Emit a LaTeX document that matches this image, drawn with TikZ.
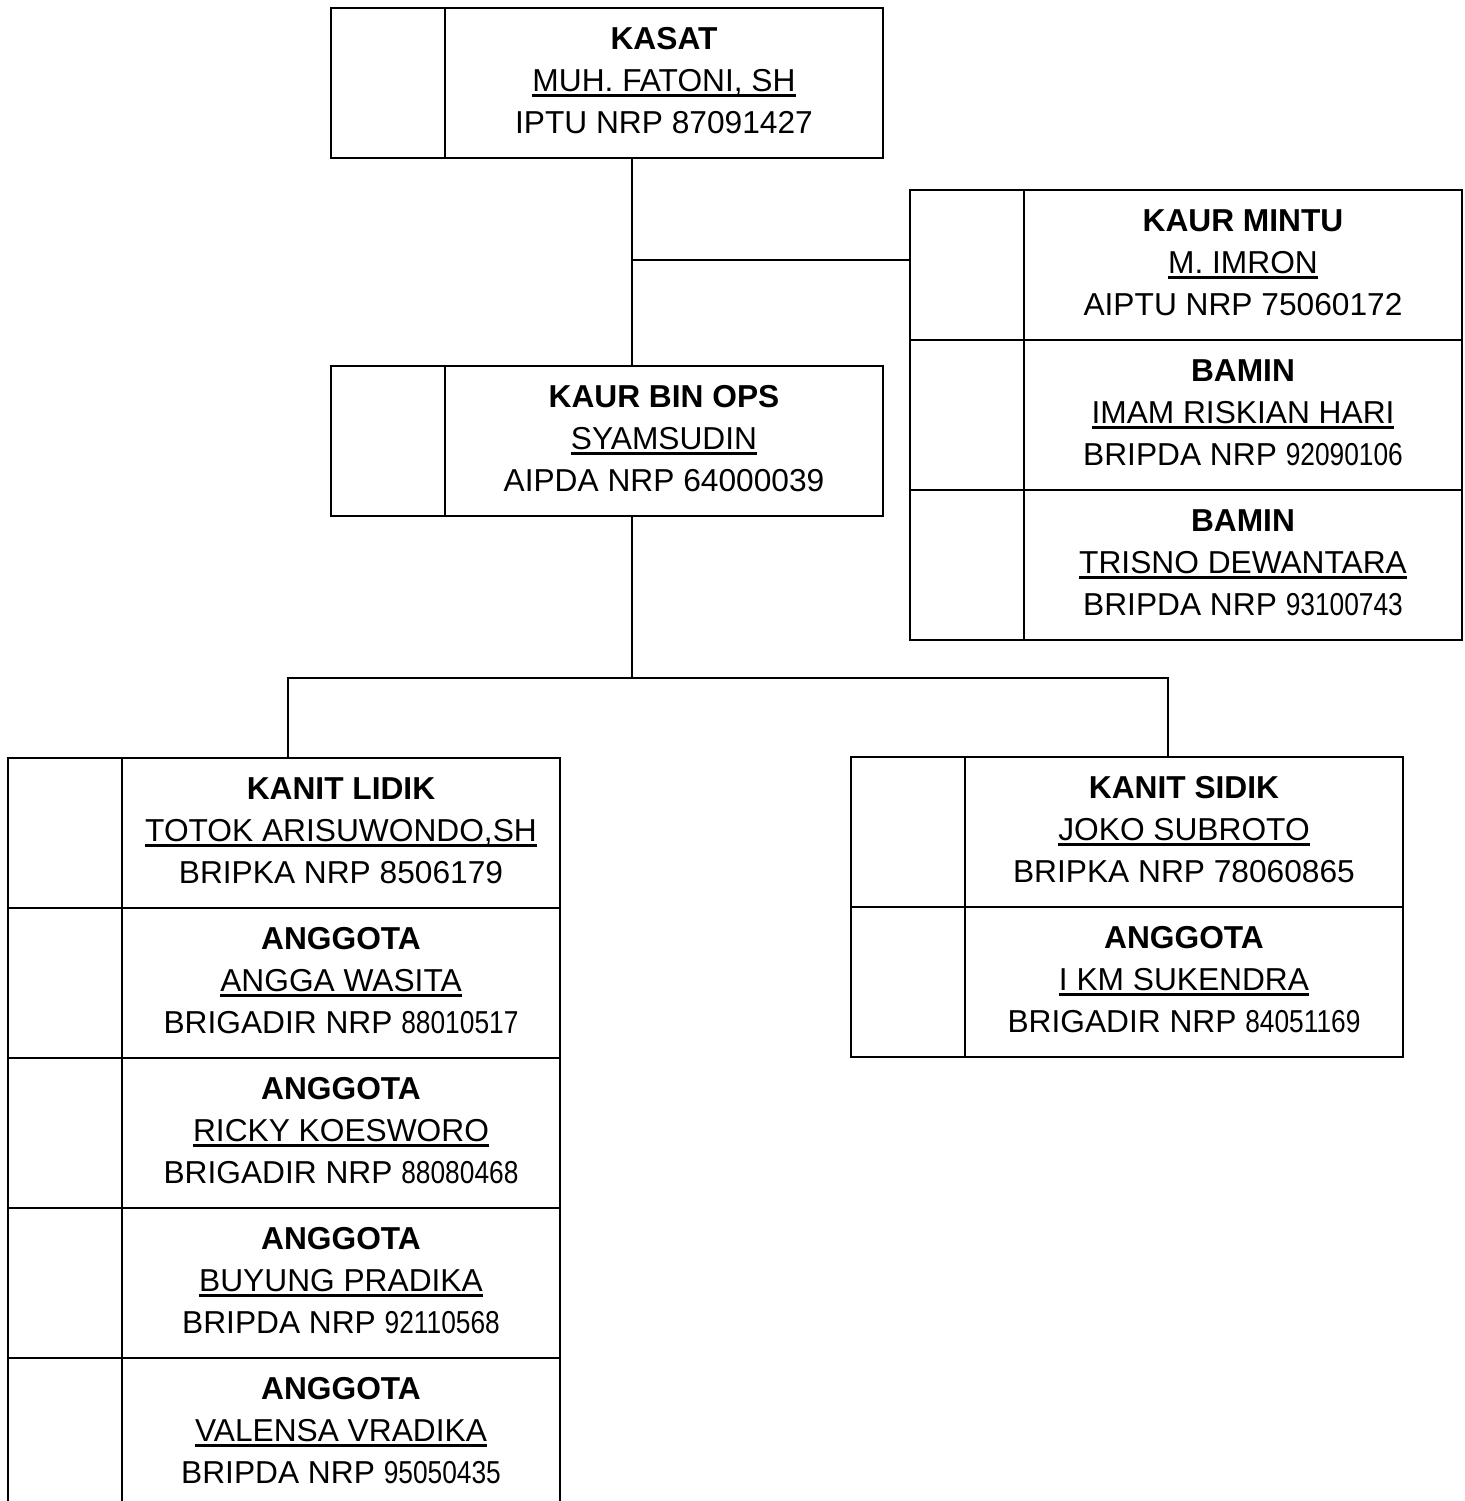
\documentclass[tikz,border=0pt]{standalone}
\usepackage{fontspec}
\usepackage{graphicx}
\setmainfont{Liberation Sans}
\usetikzlibrary{calc}
\newcommand\ulname[1]{\setbox0\hbox{#1}\rlap{\rule[-2.5pt]{\wd0}{1.2pt}}\box0}
\newcommand\nd[1]{\scalebox{0.83}[1]{#1}}
\tikzset{
  cellbox/.style={draw, line width=1pt, rectangle, inner sep=0pt, outer sep=0pt, minimum height=75pt},
  leftcell/.style={cellbox, minimum width=57pt},
  rightcell/.style={cellbox, minimum width=219pt},
  linetext/.style={inner sep=0pt, anchor=base, font=\fontsize{15.85}{19}\selectfont},
  titletext/.style={linetext, font=\fontsize{15.85}{19}\selectfont\bfseries},
  connector/.style={draw, line width=1pt}
}
\newcommand\orgrow[6]{%
  \node[leftcell, anchor=north west] (#1-a) at (#2,#3) {};
  \node[rightcell, anchor=north west] (#1) at (#1-a.north east) {};
  \node[titletext] (#1-t) at ($(#1.north)+(0,41.5)$) {#4};
  \node[linetext] (#1-n) at ($(#1.north)+(0,83.5)$) {\ulname{#5}};
  \node[linetext] (#1-r) at ($(#1.north)+(0,125.5)$) {#6};
}
\begin{document}
\begin{tikzpicture}[x=0.5pt, y=-0.5pt]
\clip (0,0) rectangle (1464,1501);
\fill[white] (0,0) rectangle (1464,1501);
% top
\orgrow{kasat}{331}{8}{KASAT}{MUH. FATONI, SH}{IPTU NRP 87091427}
% staff
\orgrow{mintu}{910}{190}{KAUR MINTU}{M. IMRON}{AIPTU NRP 75060172}
\orgrow{bamina}{910}{340}{BAMIN}{IMAM RISKIAN HARI}{BRIPDA NRP \nd{92090106}}
\orgrow{baminb}{910}{490}{BAMIN}{TRISNO DEWANTARA}{BRIPDA NRP \nd{93100743}}
% bin ops
\orgrow{binops}{331}{366}{KAUR BIN OPS}{SYAMSUDIN}{AIPDA NRP 64000039}
% left column
\orgrow{lidik}{8}{758}{KANIT LIDIK}{TOTOK ARISUWONDO,SH}{BRIPKA NRP 8506179}
\orgrow{la}{8}{908}{ANGGOTA}{ANGGA WASITA}{BRIGADIR NRP \nd{88010517}}
\orgrow{lb}{8}{1058}{ANGGOTA}{RICKY KOESWORO}{BRIGADIR NRP \nd{88080468}}
\orgrow{lc}{8}{1208}{ANGGOTA}{BUYUNG PRADIKA}{BRIPDA NRP \nd{92110568}}
\orgrow{ld}{8}{1358}{ANGGOTA}{VALENSA VRADIKA}{BRIPDA NRP \nd{95050435}}
% right column
\orgrow{sidik}{851}{757}{KANIT SIDIK}{JOKO SUBROTO}{BRIPKA NRP 78060865}
\orgrow{sa}{851}{907}{ANGGOTA}{I KM SUKENDRA}{BRIGADIR NRP \nd{84051169}}
% junctions
\coordinate (j1) at (632,260);
\coordinate (j2) at (632,678);
\coordinate (jl) at (288,678);
\coordinate (jr) at (1168,678);
% connectors
\draw[connector] (j1 |- kasat.south) -- (j1 |- binops.north);
\draw[connector] (j1) -- (j1 -| mintu-a.west);
\draw[connector] (j2 |- binops.south) -- (j2);
\draw[connector] (jl |- lidik.north) -- (jl) -- (jr) -- (jr |- sidik.north);
\end{tikzpicture}
\end{document}
